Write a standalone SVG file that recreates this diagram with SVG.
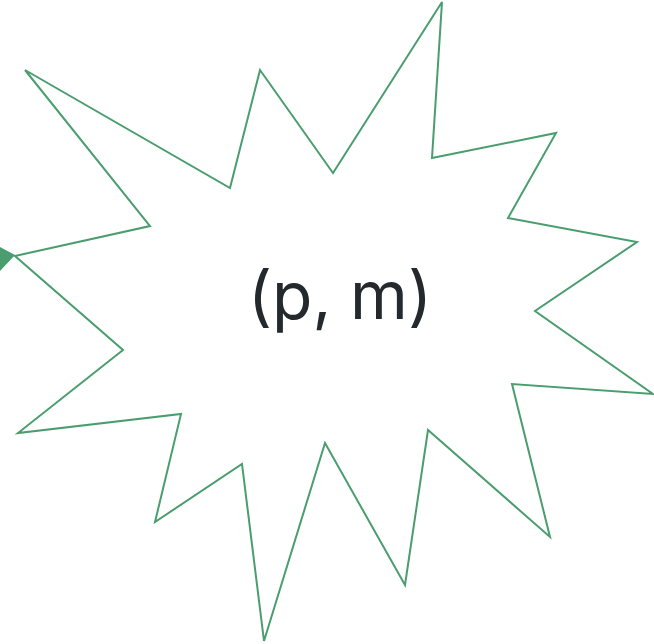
<svg xmlns="http://www.w3.org/2000/svg" width="654" height="644" viewBox="0 0 654 644">
<style>
.star{fill:#ffffff;stroke:#4a9d6f;stroke-width:2;stroke-linejoin:miter}
.lbl{font-family:Inter,"Open Sans","Liberation Sans",sans-serif;font-size:66px;fill:#23292c;text-anchor:middle}
.arrow{fill:#4a9d6f;stroke:none}
</style>
<rect width="654" height="644" fill="#ffffff"/>
<g id="connectors">
<polygon class="arrow" points="0,247 15,255 0,271"/>
</g>
<g id="node-pm">
<polygon class="star" points="15,256 150,226 25,70 230,188 260,70 333,173 442,2 432,158 556,133 508,218 637,242 535,311 653,394 512,384 550,537 428,430 405,585 325,443 264,641 242,464 155,522 181,414 18,433 123,350"/>
<text class="lbl" x="340" y="319">(p, m)</text>
</g>
</svg>
